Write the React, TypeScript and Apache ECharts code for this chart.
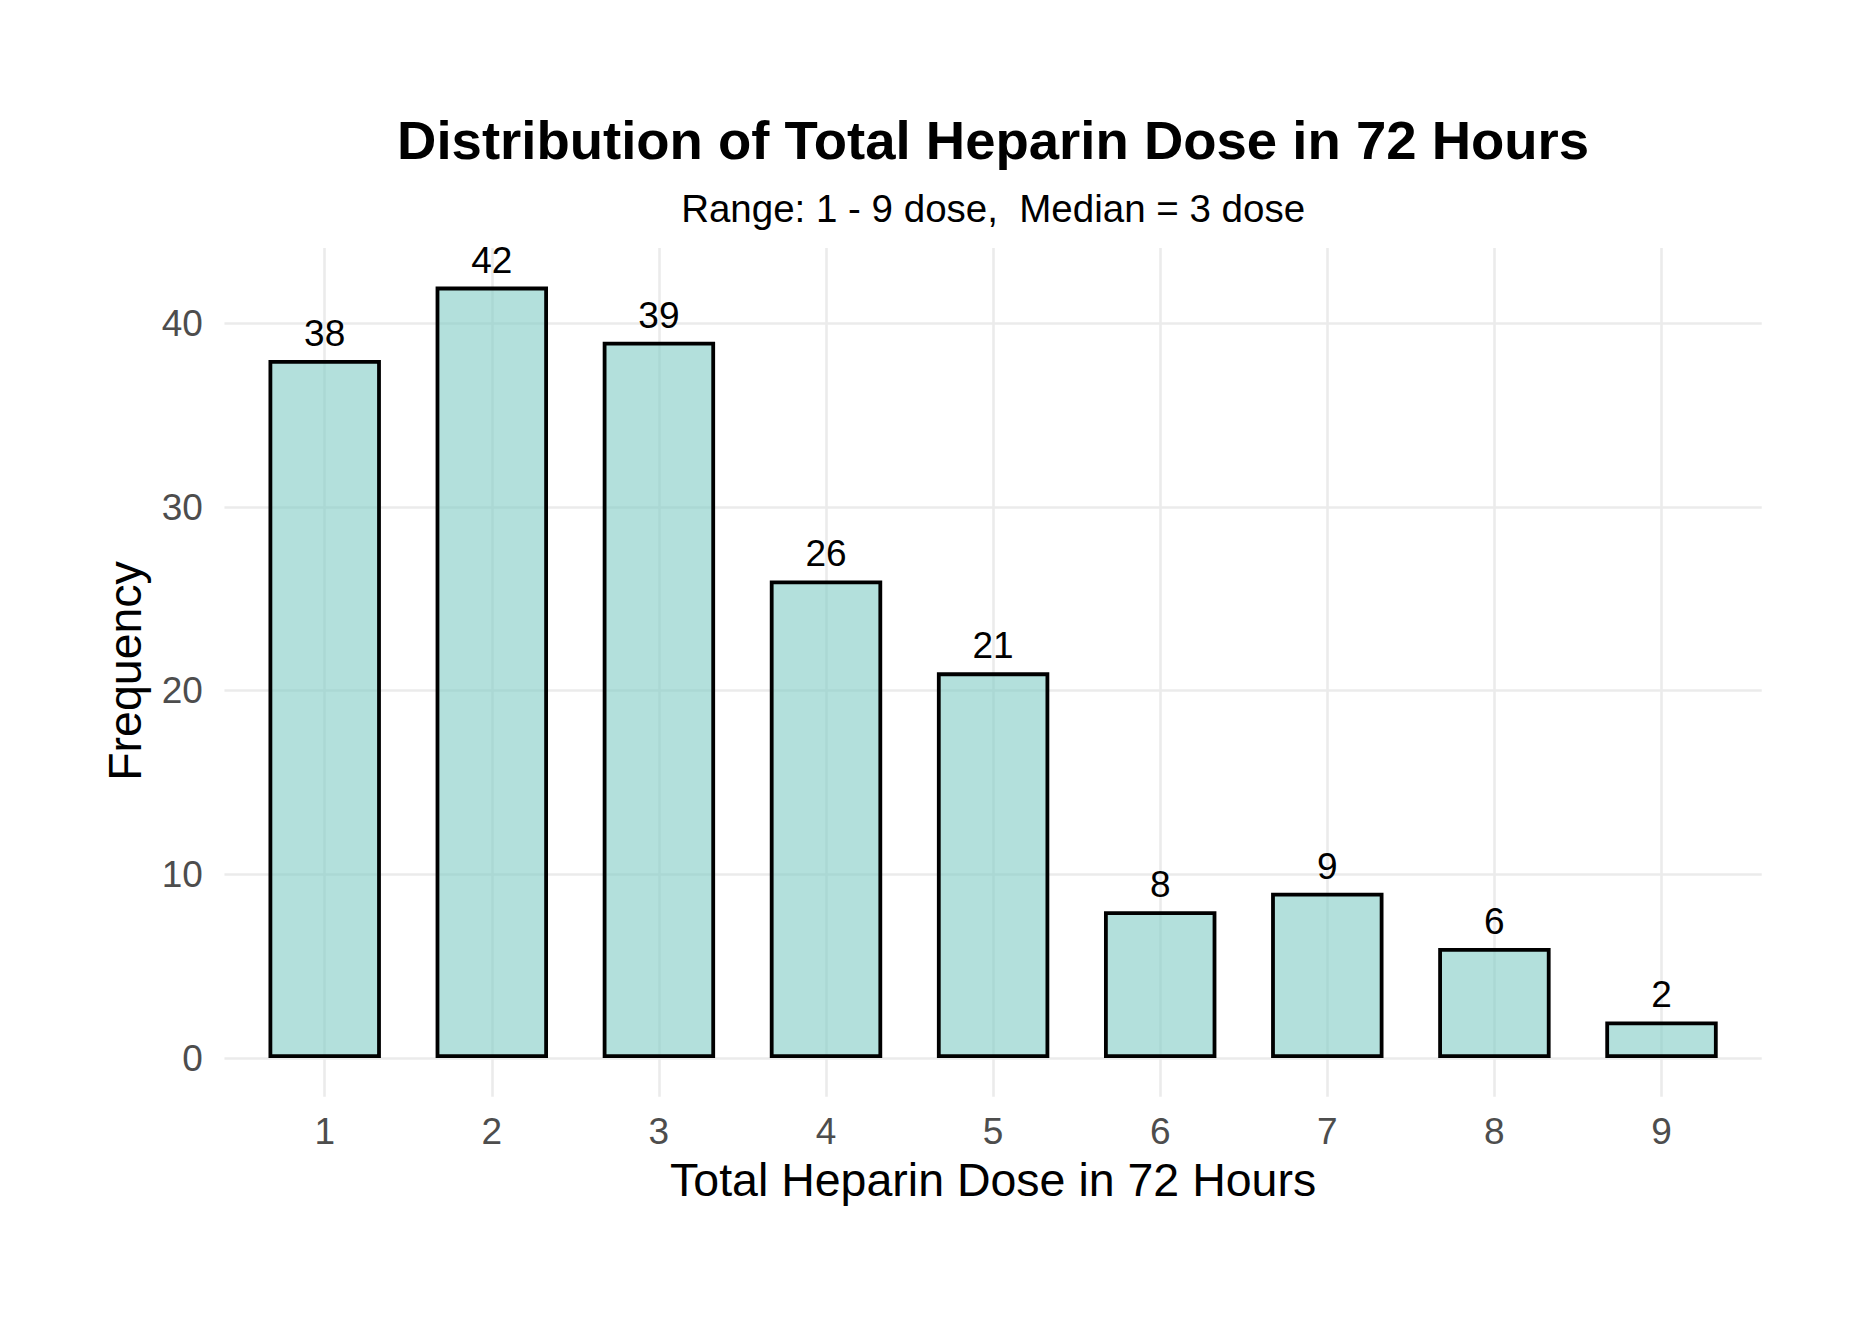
import React, { useEffect, useRef } from "react";
import * as echarts from "echarts";

const doses = [1, 2, 3, 4, 5, 6, 7, 8, 9];
const frequencies = [38, 42, 39, 26, 21, 8, 9, 6, 2];
const yTickMin = 0;
const yTickMax = 40;
const yTickStep = 10;
const titleText = "Distribution of Total Heparin Dose in 72 Hours";
const subtitleText = "Range: 1 - 9 dose,  Median = 3 dose";
const xTitleText = "Total Heparin Dose in 72 Hours";
const yTitleText = "Frequency";

const W = 1871;
const H = 1323;
const FONT = "'Liberation Sans', Arial, Helvetica, sans-serif";

export default function App() {
  const ref = useRef<HTMLDivElement>(null);

  useEffect(() => {
    if (!ref.current) return;
    const chart = echarts.init(ref.current, null, { renderer: "svg", width: W, height: H });

    const xFirst = Math.min(...doses);
    const xLast = Math.max(...doses);
    const maxF = Math.max(...frequencies);
    const yLo = -0.05 * maxF;
    const yHi = 1.05 * maxF;

    const unitX = 167.1;
    const xPix1 = 324.7;
    const panelLeft = xPix1 - 0.6 * unitX;
    const panelRight = xPix1 + (xLast - xFirst + 0.6) * unitX;
    const panelTop = 248;
    const panelBottom = 1096.7;
    const unitY = (panelBottom - panelTop) / (yHi - yLo);
    const yPix = (v: number) => panelBottom - (v - yLo) * unitY;
    const centerX = (panelLeft + panelRight) / 2;

    const grid = "#ebebeb";
    const border = 3.8;

    chart.setOption({
      animation: false,
      backgroundColor: "#ffffff",
      grid: [
        {
          left: xPix1,
          top: panelTop,
          width: (xLast - xFirst) * unitX,
          height: panelBottom - panelTop,
          outerBoundsMode: "none",
        },
        {
          left: panelLeft,
          top: yPix(yTickMax),
          width: panelRight - panelLeft,
          height: yPix(yTickMin) - yPix(yTickMax),
          outerBoundsMode: "none",
        },
      ],
      xAxis: [
        {
          type: "value",
          gridIndex: 0,
          min: xFirst,
          max: xLast,
          interval: 1,
          axisLine: { show: false },
          axisTick: { show: false },
          splitLine: { show: true, lineStyle: { color: grid, width: 2.6 } },
          axisLabel: {
            margin: 16,
            color: "#4d4d4d",
            fontSize: 37,
            fontFamily: FONT,
            formatter: (v: number) => String(v),
          },
        },
        {
          type: "value",
          gridIndex: 1,
          min: xFirst - 0.6,
          max: xLast + 0.6,
          show: false,
        },
      ],
      yAxis: [
        {
          type: "value",
          gridIndex: 0,
          min: yLo,
          max: yHi,
          show: false,
        },
        {
          type: "value",
          gridIndex: 1,
          min: yTickMin,
          max: yTickMax,
          interval: yTickStep,
          axisLine: { show: false },
          axisTick: { show: false },
          splitLine: { show: true, lineStyle: { color: grid, width: 2.6 } },
          axisLabel: {
            margin: 21.5,
            color: "#4d4d4d",
            fontSize: 37,
            fontFamily: FONT,
          },
        },
      ],
      series: [
        {
          type: "bar",
          xAxisIndex: 0,
          yAxisIndex: 0,
          clip: false,
          barWidth: 0.65 * unitX + border,
          data: doses.map((d, i) => [d, frequencies[i]]),
          itemStyle: {
            color: "rgba(128,203,196,0.6)",
            borderColor: "#000000",
            borderWidth: border,
          },
          label: {
            show: true,
            position: "top",
            distance: 8,
            color: "#000000",
            fontSize: 37,
            fontFamily: FONT,
            formatter: (p: any) => String(p.value[1]),
          },
        },
      ],
      graphic: [
        {
          type: "text",
          x: centerX,
          y: 140,
          style: {
            text: titleText,
            align: "center",
            verticalAlign: "middle",
            fontSize: 54.5,
            fontWeight: "bold",
            fontFamily: FONT,
            fill: "#000000",
          },
        },
        {
          type: "text",
          x: centerX,
          y: 208,
          style: {
            text: subtitleText,
            align: "center",
            verticalAlign: "middle",
            fontSize: 38.5,
            fontFamily: FONT,
            fill: "#000000",
          },
        },
        {
          type: "text",
          x: centerX,
          y: 1180.3,
          style: {
            text: xTitleText,
            align: "center",
            verticalAlign: "middle",
            fontSize: 46.5,
            fontFamily: FONT,
            fill: "#000000",
          },
        },
        {
          type: "text",
          x: 124.5,
          y: 671,
          rotation: Math.PI / 2,
          style: {
            text: yTitleText,
            align: "center",
            verticalAlign: "middle",
            fontSize: 46.5,
            fontFamily: FONT,
            fill: "#000000",
          },
        },
      ],
    });

    return () => chart.dispose();
  }, []);

  return (
    <div
      ref={ref}
      style={{ position: "fixed", left: 0, top: 0, width: W, height: H, background: "#ffffff" }}
    />
  );
}
